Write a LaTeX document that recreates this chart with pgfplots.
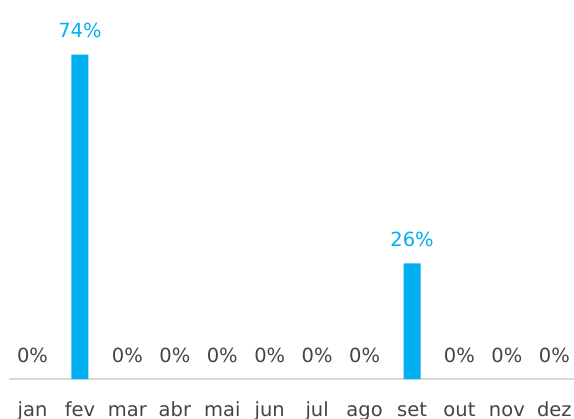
\documentclass[border=0pt]{standalone}
\usepackage{fontspec}
\setmainfont{DejaVu Sans}
\usepackage{pgfplots}
\pgfplotsset{compat=1.18}
\definecolor{barblue}{HTML}{00B0F0}
\definecolor{txtgray}{HTML}{444444}
\definecolor{linegray}{HTML}{D9D9D9}
\begin{document}
\begin{tikzpicture}
\begin{axis}[
  scale only axis,
  width=565bp, height=379.3bp,
  xmin=-0.49, xmax=11.415,
  ymin=0, ymax=86.1,
  axis y line=none,
  axis x line=bottom,
  axis line style={-, draw=linegray, line width=1.5bp},
  xtick={0,...,11},
  xticklabels={jan,fev,mar,abr,mai,jun,jul,ago,set,out,nov,dez},
  major tick length=0pt,
  xticklabel style={anchor=base, yshift=-37.7bp, text=txtgray, font=\fontsize{19.5bp}{23bp}\selectfont},
  ybar, bar width=17bp, bar shift=0pt,
  /pgf/number format/assume math mode=true,
  nodes near coords={\pgfmathprintnumber[fixed,precision=0,assume math mode=true]{\pgfplotspointmeta}\%},
  every node near coord/.append style={anchor=base, yshift=17bp, inner sep=0pt, font=\fontsize{19.5bp}{23bp}\selectfont},
  clip=false,
]
\addplot[fill=barblue, draw=none, every node near coord/.append style={text=barblue}]
  coordinates {(1,73.7) (8,26.3)};
\addplot[fill=none, draw=none, every node near coord/.append style={text=txtgray}]
  coordinates {(0,0) (2,0) (3,0) (4,0) (5,0) (6,0) (7,0) (9,0) (10,0) (11,0)};
\coordinate (bl) at (axis cs:-0.49,0);
\coordinate (tr) at (axis cs:11.415,86.1);
\end{axis}
\pgfresetboundingbox
\path (bl) ++(-9.3bp,-39.7bp) rectangle (tr);
\end{tikzpicture}
\end{document}
